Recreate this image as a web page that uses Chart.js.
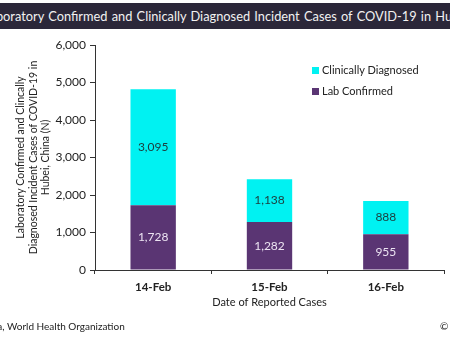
<!DOCTYPE html>
<html>
<head>
<meta charset="utf-8">
<script src="https://cdn.jsdelivr.net/npm/chart.js@4"></script>
<style>
  html, body { margin: 0; padding: 0; background: #fff; }
  #wrap { position: relative; width: 450px; height: 340px; overflow: hidden; font-family: Lato, sans-serif; }
  #titleBar { position: absolute; left: 0; top: 3px; width: 450px; height: 26px; background: #2b2739; overflow: hidden; }
  #titleBar span { position: absolute; left: -17px; top: 5px; white-space: nowrap; color: #f2f2f2; font-size: 12.8px; word-spacing: 1px; }
  #legend { position: absolute; left: 312px; top: 63px; font-size: 11px; color: #222; }
  #legend div { height: 21px; line-height: 14px; white-space: nowrap; }
  #legend i { display: inline-block; width: 7px; height: 7px; margin-right: 3px; vertical-align: 0px; }
  #source { position: absolute; left: -197px; top: 320px; font-size: 10px; color: #222; white-space: nowrap; }
  #copy { position: absolute; left: 440px; top: 320px; font-size: 10px; color: #222; white-space: nowrap; }
  canvas { position: absolute; left: 0; top: 0; }
</style>
</head>
<body>
<div id="wrap">
  <canvas id="chart" width="450" height="340"></canvas>
  <div id="titleBar"><span>Laboratory Confirmed and Clinically Diagnosed Incident Cases of COVID-19 in Hubei, China</span></div>
  <div id="legend"></div>
  <div id="source">Source: National Health Commission of China, World Health Organization</div>
  <div id="copy">© GlobalData</div>
</div>
<script>
const dates = ['14-Feb', '15-Feb', '16-Feb'];
const labConfirmed = [1728, 1282, 955];
const clinicallyDiagnosed = [3095, 1138, 888];
const yTicks = [0, 1000, 2000, 3000, 4000, 5000, 6000];

const PURPLE = '#5a3573';
const CYAN = '#00f2f2';

// legend (top series first)
document.getElementById('legend').innerHTML =
  `<div><i style="background:${CYAN}"></i>Clinically Diagnosed</div>` +
  `<div><i style="background:${PURPLE}"></i>Lab Confirmed</div>`;

// value labels in the middle of each bar segment
const barLabels = {
  id: 'barLabels',
  afterDatasetsDraw(chart) {
    const ctx = chart.ctx;
    ctx.save();
    ctx.font = '12px Lato, sans-serif';
    ctx.textAlign = 'center';
    ctx.textBaseline = 'middle';
    chart.data.datasets.forEach((ds, i) => {
      chart.getDatasetMeta(i).data.forEach((bar, j) => {
        const mid = (bar.y + bar.base) / 2;
        ctx.fillStyle = ds.labelColor;
        ctx.fillText(ds.data[j].toLocaleString('en-US'), bar.x, mid);
      });
    });
    ctx.restore();
  }
};

new Chart(document.getElementById('chart'), {
  type: 'bar',
  data: {
    labels: dates,
    datasets: [
      { label: 'Lab Confirmed', data: labConfirmed, backgroundColor: PURPLE, labelColor: '#ece4f2' },
      { label: 'Clinically Diagnosed', data: clinicallyDiagnosed, backgroundColor: CYAN, labelColor: '#1c4040' }
    ]
  },
  options: {
    responsive: false,
    animation: false,
    layout: { padding: { left: 15, right: 6, top: 45, bottom: 27 } },
    plugins: { legend: { display: false }, tooltip: { enabled: false } },
    datasets: { bar: { barPercentage: 0.39, categoryPercentage: 1 } },
    scales: {
      x: {
        stacked: true,
        offset: true,
        grid: { drawOnChartArea: false, offset: true, tickLength: 4, color: '#333' },
        border: { color: '#333', width: 1 },
        ticks: { color: '#222', font: { family: 'Lato', size: 11.5, weight: 'bold' }, padding: 6 },
        title: { display: true, text: 'Date of Reported Cases', color: '#222', font: { family: 'Lato', size: 11 }, padding: { top: 2 } },
        afterFit(s) { s.height = 43; }
      },
      y: {
        stacked: true,
        min: 0,
        max: 6000,
        afterBuildTicks(s) { s.ticks = yTicks.map(v => ({ value: v })); },
        grid: { drawOnChartArea: false, tickLength: 5, color: '#333' },
        border: { color: '#333', width: 1 },
        ticks: { color: '#222', font: { family: 'Lato', size: 12 }, padding: 4, callback: v => v.toLocaleString('en-US') },
        title: {
          display: true,
          text: ['Laboratory Confirmed and Clincally', 'Diagnosed Incident Cases of COVID-19 in', 'Hubei, China (N)'],
          color: '#222',
          font: { family: 'Lato', size: 10.5, lineHeight: 1.15 },
          padding: { top: 0, bottom: 2 }
        },
        afterFit(s) { s.width = 80; }
      }
    }
  },
  plugins: [barLabels]
});
</script>
</body>
</html>
